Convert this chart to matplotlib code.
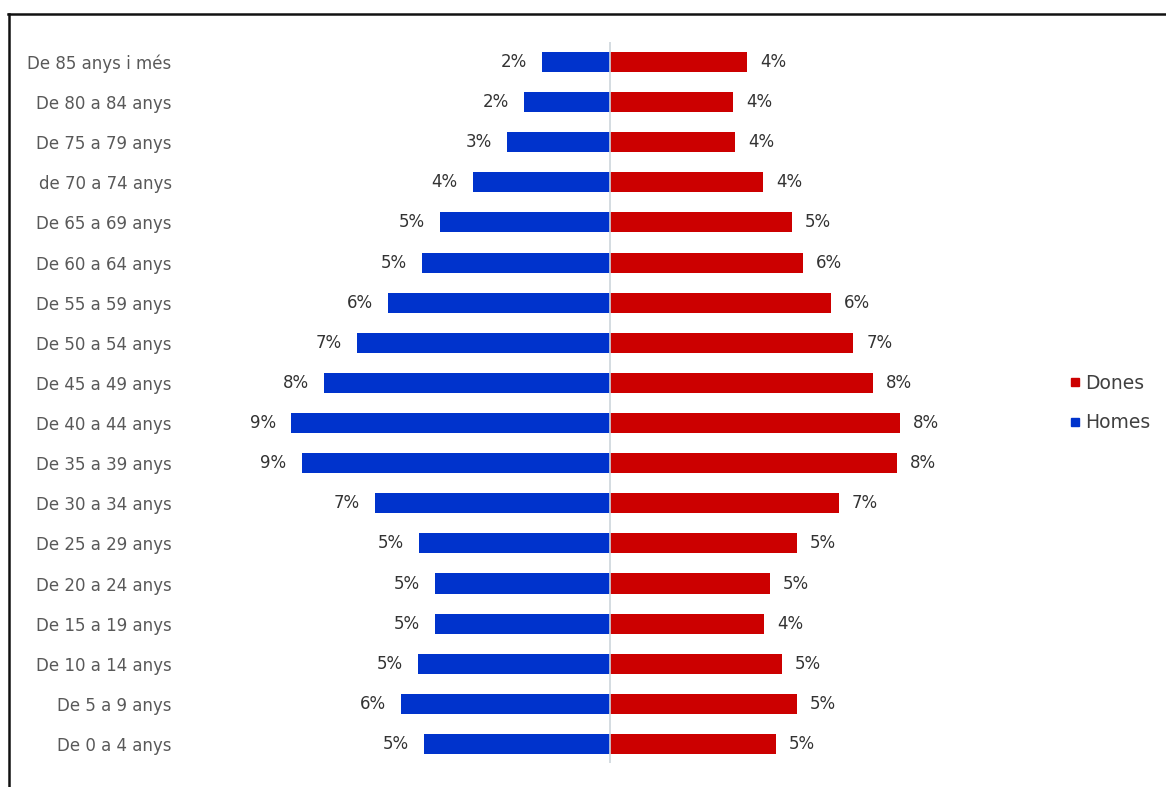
import numpy as np
import matplotlib
matplotlib.use("Agg")
import matplotlib.pyplot as plt
from matplotlib.lines import Line2D

# age groups, bottom (youngest) to top (oldest)
ages = ["De 0 a 4 anys", "De 5 a 9 anys", "De 10 a 14 anys", "De 15 a 19 anys",
        "De 20 a 24 anys", "De 25 a 29 anys", "De 30 a 34 anys", "De 35 a 39 anys",
        "De 40 a 44 anys", "De 45 a 49 anys", "De 50 a 54 anys", "De 55 a 59 anys",
        "De 60 a 64 anys", "De 65 a 69 anys", "de 70 a 74 anys", "De 75 a 79 anys",
        "De 80 a 84 anys", "De 85 anys i més"]
homes = [5.30, 5.97, 5.47, 4.99, 4.99, 5.44, 6.71, 8.81, 9.11, 8.16,
         7.22, 6.33, 5.37, 4.85, 3.91, 2.94, 2.45, 1.94]
dones = [4.76, 5.37, 4.93, 4.43, 4.59, 5.37, 6.57, 8.22, 8.31, 7.53,
         6.98, 6.34, 5.53, 5.21, 4.40, 3.60, 3.54, 3.93]

blue = '#0033cc'
red = '#cc0000'

W, H = 1166, 787
fig = plt.figure(figsize=(W / 100, H / 100), dpi=100)
# axes placed in pixels: x 180..1040, y 42..763
ax = fig.add_axes([180 / W, (H - 763) / H, 860 / W, 721 / H])

y = np.arange(len(ages))
ax.barh(y, -np.array(homes), height=0.5, color=blue, label='Homes')
ax.barh(y, dones, height=0.5, color=red, label='Dones')
ax.axvline(0, color='#cdd5dc', lw=1.2)

scale = 34.95  # px per percent
ax.set_xlim(-429.5 / scale, 430.5 / scale)
ax.set_ylim(-0.4736, 17.4985)

off = 15 / scale
for i in range(len(ages)):
    ax.text(-homes[i] - off, y[i], f"{round(homes[i])}%", ha='right', va='center',
            fontsize=12, color='#333333')
    ax.text(dones[i] + off - 2 / scale, y[i], f"{round(dones[i])}%", ha='left', va='center',
            fontsize=12, color='#333333')

ax.set_yticks(y)
ax.set_yticklabels(ages, fontsize=12, color='#595959')
ax.tick_params(axis='y', length=0, pad=6)
ax.set_xticks([])
for s in ax.spines.values():
    s.set_visible(False)

handles = [Line2D([], [], marker='s', ls='', color=red, markersize=6),
           Line2D([], [], marker='s', ls='', color=blue, markersize=6)]
fig.legend(handles, ['Dones', 'Homes'], loc='center left',
           bbox_to_anchor=(1053 / W, 1 - 403 / H), frameon=False,
           fontsize=13.5, labelcolor='#404040', handlelength=0.5,
           handletextpad=0.3, labelspacing=1.1)

# frame lines at top and left edge
fig.add_artist(Line2D([8 / W, 1], [1 - 14 / H, 1 - 14 / H], color='#111111', lw=1.8))
fig.add_artist(Line2D([9 / W, 9 / W], [0, 1 - 14 / H], color='#111111', lw=1.8))

fig.savefig('out.png', dpi=100)
